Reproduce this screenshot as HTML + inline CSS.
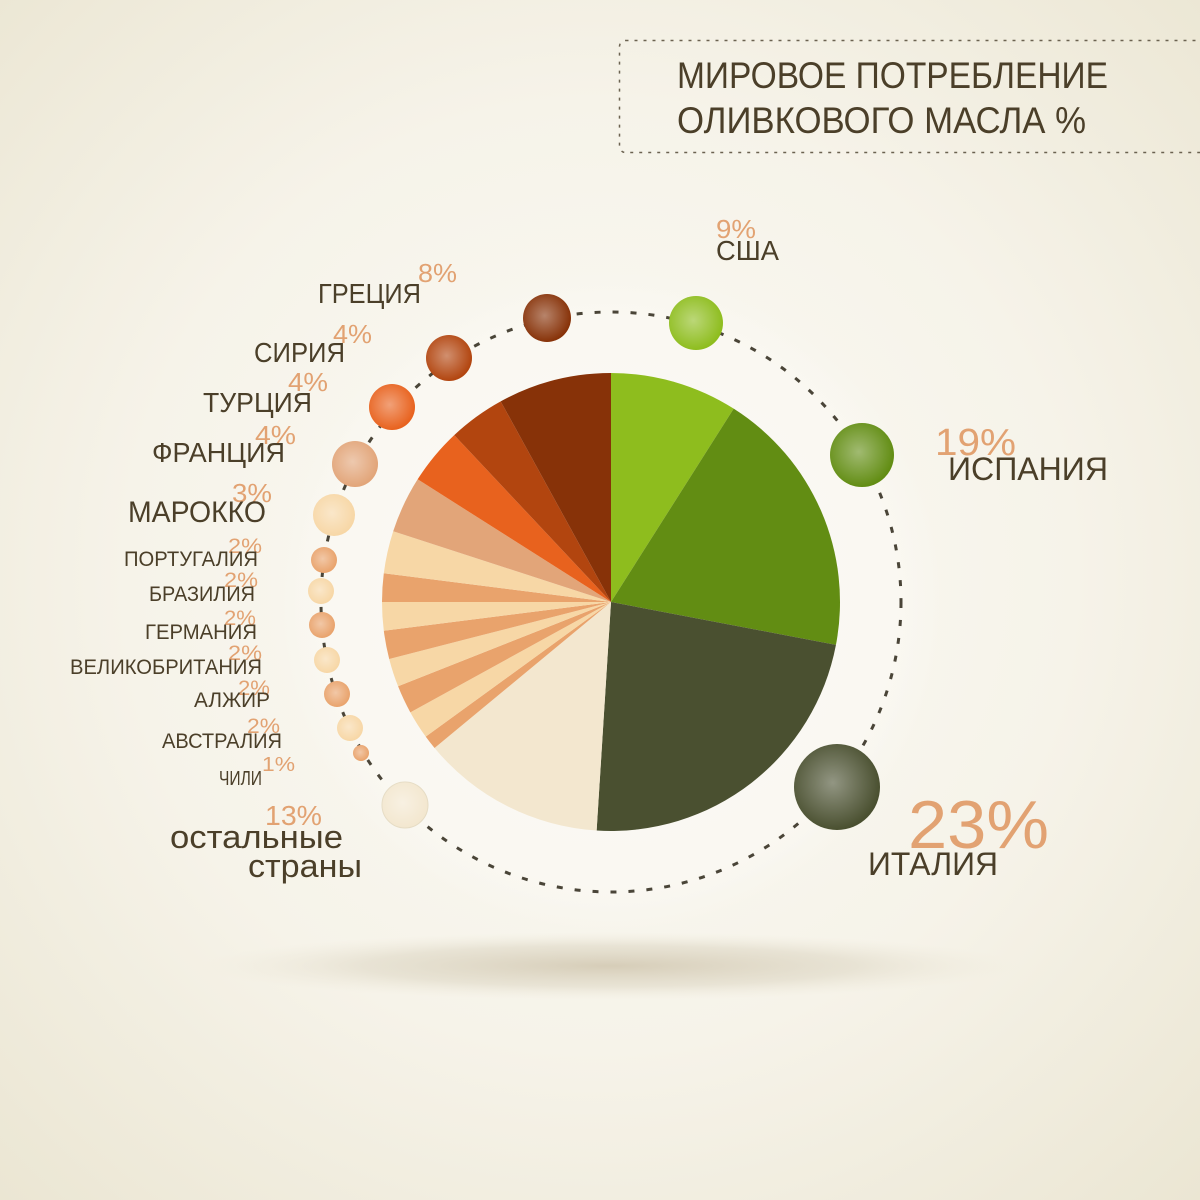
<!DOCTYPE html>
<html><head><meta charset="utf-8">
<style>
html,body{margin:0;padding:0;width:1200px;height:1200px;overflow:hidden;}
svg{display:block;}
text{font-family:"Liberation Sans","Noto Sans CJK SC",sans-serif;}
.lbl{fill:#4b3f29;}
.pct{fill:#e2a272;}
</style></head>
<body>
<svg id="chart" width="1200" height="1200" viewBox="0 0 1200 1200" xmlns="http://www.w3.org/2000/svg">
<defs>
<radialGradient id="bg" cx="0.5" cy="0.48" r="0.72">
<stop offset="0" stop-color="#fbfaf5"/>
<stop offset="0.55" stop-color="#f6f3e9"/>
<stop offset="1" stop-color="#ebe6d3"/>
</radialGradient>
<radialGradient id="inner" cx="0.5" cy="0.5" r="0.5">
<stop offset="0" stop-color="#fbfaf6"/>
<stop offset="0.85" stop-color="#faf8f2"/>
<stop offset="1" stop-color="#faf8f2" stop-opacity="0"/>
</radialGradient>
<radialGradient id="shadow" cx="0.5" cy="0.5" r="0.5">
<stop offset="0" stop-color="#d6cdb8"/>
<stop offset="0.6" stop-color="#e2dccb" stop-opacity="0.7"/>
<stop offset="1" stop-color="#efeadb" stop-opacity="0"/>
</radialGradient>
<radialGradient id="shine" cx="0.45" cy="0.45" r="0.55">
<stop offset="0" stop-color="#ffffff" stop-opacity="0.4"/>
<stop offset="1" stop-color="#ffffff" stop-opacity="0"/>
</radialGradient>
</defs>
<rect x="0" y="0" width="1200" height="1200" fill="url(#bg)"/>
<ellipse cx="611" cy="602" rx="330" ry="330" fill="url(#inner)"/>
<ellipse cx="610" cy="966" rx="410" ry="34" fill="url(#shadow)"/>
<rect x="619.5" y="40.5" width="600" height="112" rx="6" fill="none" stroke="#6b6250" stroke-width="1.5" stroke-dasharray="3,6"/>
<text class="lbl" x="677" y="88" font-size="37" textLength="431" lengthAdjust="spacingAndGlyphs">МИРОВОЕ ПОТРЕБЛЕНИЕ</text>
<text class="lbl" x="677" y="133" font-size="37" textLength="409" lengthAdjust="spacingAndGlyphs">ОЛИВКОВОГО МАСЛА %</text>
<circle cx="611" cy="602" r="290" fill="none" stroke="#4a4538" stroke-width="3" stroke-dasharray="6,12"/>
<g id="pie"></g>
<g id="dots"></g>
<g id="labels"></g>
</svg>
<script>
// data (clockwise from top)
const countries = ["США","Испания","Италия","остальные страны","Чили","Австралия","Алжир","Великобритания","Германия","Бразилия","Португалия","Марокко","Франция","Турция","Сирия","Греция"];
const shares = [9,19,23,13,1,2,2,2,2,2,2,3,4,4,4,8];
const pctLabels = ["9%","19%","23%","13%","1%","2%","2%","2%","2%","2%","2%","3%","4%","4%","4%","8%"];
// styling
const colors = ["#8ebd1e","#628d13","#4a5030","#f3e7cf","#e9a36c","#f7d7a6","#e9a36c","#f7d7a6","#e9a36c","#f7d7a6","#e9a36c","#f7d7a6","#e2a579","#e8621e","#b2450f","#873208"];
const dotPos = [[696,323,27],[862,455,32],[837,787,43],[405,805,23],[361,753,8],[350,728,13],[337,694,13],[327,660,13],[322,625,13],[321,591,13],[324,560,13],[334,515,21],[355,464,23],[392,407,23],[449,358,23],[547,318,24]];
const cx=611, cy=602, R=229;
const NS="http://www.w3.org/2000/svg";
const total = shares.reduce((a,b)=>a+b,0);
function angle(v){ return v/total*2*Math.PI; }
function pt(a,r){ return [cx+r*Math.sin(a), cy-r*Math.cos(a)]; }
const pie=document.getElementById('pie');
let acc=0;
shares.forEach((v,i)=>{
  const a0=angle(acc), a1=angle(acc+v); acc+=v;
  const p0=pt(a0,R), p1=pt(a1,R);
  const large=(a1-a0)>Math.PI?1:0;
  const p=document.createElementNS(NS,'path');
  p.setAttribute('d',`M${cx},${cy} L${p0[0]},${p0[1]} A${R},${R} 0 ${large} 1 ${p1[0]},${p1[1]} Z`);
  p.setAttribute('fill',colors[i]);
  
  
  pie.appendChild(p);
});
const dots=document.getElementById('dots');
dotPos.forEach((d,i)=>{
  const c=document.createElementNS(NS,'circle');
  c.setAttribute('cx',d[0]);c.setAttribute('cy',d[1]);c.setAttribute('r',d[2]);
  c.setAttribute('fill',colors[i]);
  if(i===3){c.setAttribute('stroke','#e6dcc4');c.setAttribute('stroke-width','1');}
  
  
  dots.appendChild(c);
  const s=document.createElementNS(NS,'circle');
  s.setAttribute('cx',d[0]);s.setAttribute('cy',d[1]);s.setAttribute('r',d[2]);
  s.setAttribute('fill','url(#shine)');
  
  
  dots.appendChild(s);
});
// label layout: [nameLines, x, y, size, width, pctX, pctY, pctSize, pctW]
const layout = [
  [["США"],716,260,28,63,716,238,26,40],
  [["ИСПАНИЯ"],948,480,32,160,935,455,38,81],
  [["ИТАЛИЯ"],868,875,32,130,908,848,68,141],
  [["остальные","страны"],[170,248],[848,877],32,[173,114],265,825,28,57],
  [["ЧИЛИ"],219,785,20,43,262,771,20,33],
  [["АВСТРАЛИЯ"],162,748,21,120,247,733,21,33],
  [["АЛЖИР"],194,707,21,76,238,695,21,32],
  [["ВЕЛИКОБРИТАНИЯ"],70,674,21,192,228,660,21,34],
  [["ГЕРМАНИЯ"],145,639,21,112,224,625,21,32],
  [["БРАЗИЛИЯ"],149,601,21,106,224,587,21,34],
  [["ПОРТУГАЛИЯ"],124,566,21,134,228,553,21,34],
  [["МАРОККО"],128,522,30,138,232,502,26,40],
  [["ФРАНЦИЯ"],152,462,28,133,255,444,26,41],
  [["ТУРЦИЯ"],203,412,28,109,288,391,26,40],
  [["СИРИЯ"],254,362,28,91,333,343,26,39],
  [["ГРЕЦИЯ"],318,303,28,103,418,282,26,39]
];
const labels=document.getElementById('labels');
layout.forEach((L,i)=>{
  const t=document.createElementNS(NS,'text');
  t.setAttribute('class','pct');
  t.setAttribute('x',L[5]);t.setAttribute('y',L[6]);t.setAttribute('font-size',L[7]);
  t.setAttribute('textLength',L[8]);t.setAttribute('lengthAdjust','spacingAndGlyphs');
  t.textContent=pctLabels[i];
  
  
  labels.appendChild(t);
  L[0].forEach((line,j)=>{
    const n=document.createElementNS(NS,'text');
    n.setAttribute('class','lbl');
    n.setAttribute('x',Array.isArray(L[1])?L[1][j]:L[1]);
    n.setAttribute('y',Array.isArray(L[2])?L[2][j]:L[2]);
    n.setAttribute('font-size',L[3]);
    n.setAttribute('textLength',Array.isArray(L[4])?L[4][j]:L[4]);
    n.setAttribute('lengthAdjust','spacingAndGlyphs');
    n.textContent=line;
    
    
    labels.appendChild(n);
  });
});
</script>
</body></html>
